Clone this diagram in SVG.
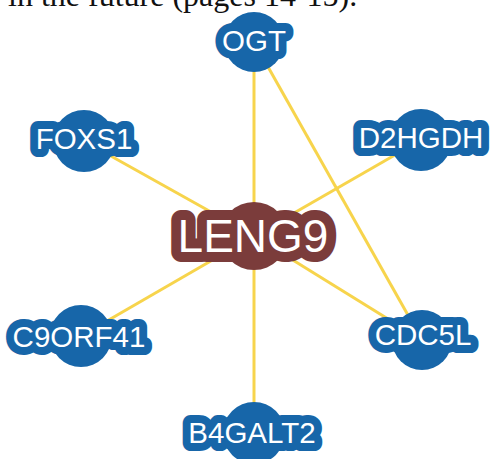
<svg xmlns="http://www.w3.org/2000/svg" width="490" height="459" viewBox="0 0 490 459">
  <style>
    .edge { stroke: #f7d44c; stroke-width: 3; fill: none; }
    .gene circle { fill: #1766a9; }
    .gene text { fill: #ffffff; stroke: #1766a9; }
    .hub circle { fill: #7b3c3b; }
    .hub text { fill: #ffffff; stroke: #7b3c3b; }
    .lbl { font-family: "Liberation Sans", Arial, sans-serif; text-anchor: middle; paint-order: stroke; stroke-linejoin: round; }
    .small { font-size: 29.5px; stroke-width: 16px; }
    .big { font-size: 46px; stroke-width: 20px; }
    .caption { font-family: "Liberation Serif", "Times New Roman", serif; font-size: 32px; fill: #111111; }
  </style>

  <!-- running text of the page, cropped at the top edge -->
  <text class="caption" x="8" y="6">in the future (pages 14-15).</text>

  <!-- interaction lines -->
  <g id="connectors">
    <line class="edge" x1="254" y1="236" x2="254" y2="42"/>
    <line class="edge" x1="254" y1="236" x2="84" y2="141"/>
    <line class="edge" x1="254" y1="236" x2="421" y2="140"/>
    <line class="edge" x1="254" y1="236" x2="81" y2="336"/>
    <line class="edge" x1="254" y1="236" x2="422" y2="340"/>
    <line class="edge" x1="254" y1="236" x2="254" y2="433"/>
    <line class="edge" x1="254" y1="42" x2="422" y2="340"/>
  </g>

  <g id="OGT" class="gene">
    <circle cx="254" cy="42" r="30"/>
    <text class="lbl small" x="254" y="51">OGT</text>
  </g>
  <g id="FOXS1" class="gene">
    <circle cx="84" cy="141" r="31"/>
    <text class="lbl small" x="84" y="149">FOXS1</text>
  </g>
  <g id="D2HGDH" class="gene">
    <circle cx="421" cy="140" r="31"/>
    <text class="lbl small" x="421" y="148">D2HGDH</text>
  </g>
  <g id="C9ORF41" class="gene">
    <circle cx="81" cy="336" r="31"/>
    <text class="lbl small" x="79" y="347">C9ORF41</text>
  </g>
  <g id="CDC5L" class="gene">
    <circle cx="422" cy="340" r="30"/>
    <text class="lbl small" x="423" y="345">CDC5L</text>
  </g>
  <g id="B4GALT2" class="gene">
    <circle cx="254" cy="433" r="31"/>
    <text class="lbl small" x="252" y="443">B4GALT2</text>
  </g>
  <g id="LENG9" class="hub">
    <circle cx="254" cy="236" r="34"/>
    <text class="lbl big" x="253" y="252">LENG9</text>
  </g>
</svg>
